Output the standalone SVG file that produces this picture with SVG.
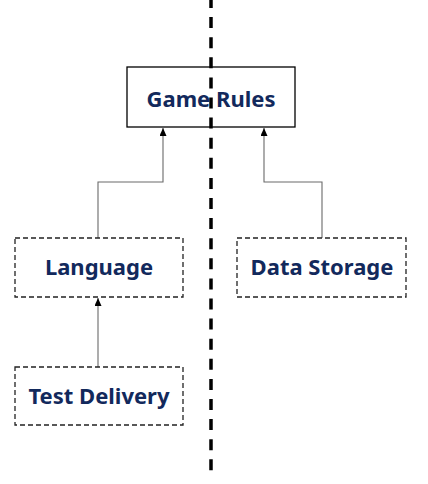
<svg xmlns="http://www.w3.org/2000/svg" width="428" height="484" viewBox="0 0 428 484">
  <style>
    .box { fill: #ffffff; stroke: #000000; stroke-width: 1.3; }
    .dbox { fill: #ffffff; stroke: #222222; stroke-width: 1.3; stroke-dasharray: 5 3; }
    .label { font-family: "Noto Sans", "Open Sans", "DejaVu Sans", sans-serif; font-weight: bold; font-size: 22px; fill: #12295c; text-anchor: middle; }
    .edge { fill: none; stroke: #6a6a6a; stroke-width: 1.1; marker-end: url(#arrow); }
    .divider { stroke: #000000; stroke-width: 3.5; stroke-dasharray: 11 9.1; stroke-dashoffset: 3; }
  </style>
  <defs>
    <marker id="arrow" viewBox="0 0 8 7" refX="8" refY="3.5" markerWidth="8" markerHeight="7" markerUnits="userSpaceOnUse" orient="auto">
      <path d="M0,0 L8,3.5 L0,7 Z" fill="#000000"/>
    </marker>
  </defs>

  <rect width="428" height="484" fill="#ffffff"/>

  <g id="connectors">
    <polyline class="edge" points="98,238 98,182 163,182 163,128"/>
    <polyline class="edge" points="322,238 322,182 264,182 264,128"/>
    <polyline class="edge" points="98,367 98,298"/>
  </g>

  <g id="game-rules">
    <rect class="box" x="127" y="67" width="168" height="60"/>
    <text class="label" x="211" y="107">Game Rules</text>
  </g>

  <g id="language">
    <rect class="dbox" x="15" y="238" width="168" height="59"/>
    <text class="label" x="99" y="275">Language</text>
  </g>

  <g id="data-storage">
    <rect class="dbox" x="237" y="238" width="169" height="59"/>
    <text class="label" x="322" y="275">Data Storage</text>
  </g>

  <g id="test-delivery">
    <rect class="dbox" x="15" y="367" width="168" height="58"/>
    <text class="label" x="99" y="404">Test Delivery</text>
  </g>

  <line class="divider" x1="211" y1="0" x2="211" y2="472"/>
</svg>
